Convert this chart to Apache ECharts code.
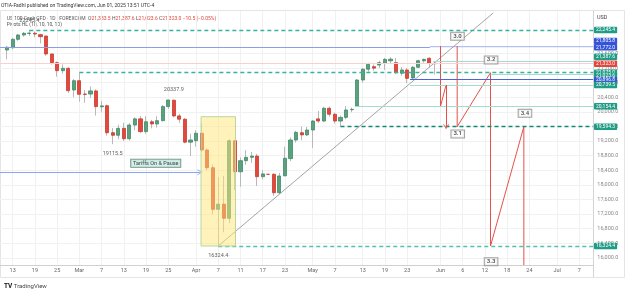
<!DOCTYPE html>
<html>
<head>
<meta charset="utf-8">
<title>US 100 Cash CFD - 1D</title>
<script src="https://cdn.jsdelivr.net/npm/echarts@6/dist/echarts.min.js"></script>
<style>body{margin:0;background:#fff}</style>
</head>
<body>
<div id="main" style="width:625px;height:293px;"></div>
<script type="text/javascript">
var FONT = 'Roboto, "Noto Sans", sans-serif';

// trading days on the time axis (weekdays, Feb 11 .. Jul 9 2025)
var days = [];
(function () {
    var d = new Date(Date.UTC(2025, 1, 11));
    while (days.length < 107) {
        var w = d.getUTCDay();
        if (w !== 0 && w !== 6) days.push(d.toISOString().slice(0, 10));
        d.setUTCDate(d.getUTCDate() + 1);
    }
})();

var tickIdx = [2, 6, 10, 14, 18, 22, 26, 30, 35, 39, 43, 47, 51, 56, 60, 65, 69, 73, 79, 83, 87, 91, 95, 100, 104];
var tickText = ['13', '19', '25', 'Mar', '7', '13', '19', '25', 'Apr', '7', '11', '17', '23', 'May', '7', '13', '19', '23', 'Jun', '6', '12', '18', '24', 'Jul', '7'];
var priceTicks = [16000, 16400, 16800, 17200, 17600, 18000, 18400, 18800, 19200, 19600, 20000, 20400, 20800, 21200, 21600];

// daily candles, Feb 12 .. May 30
var firstBar = 1;
var opens = [21697, 21760, 21990, 22108, 22150, 22155, 22117, 22080, 21588, 21350, 21130, 21195, 20601, 20855, 20490, 20490, 20575, 20140, 20170, 19430,
    19360, 19550, 19265, 19640, 19810, 19460, 19730, 19670, 19760, 20145, 20320, 19890, 19800, 19170, 19210, 19415, 18956, 18470, 17330, 17470,
    17085, 19210, 18360, 18663, 18755, 18790, 18225, 18290, 18290, 17785, 18250, 18720, 19230, 19430, 19370, 19504, 19810, 19750, 20100, 19935,
    19750, 19850, 20060, 20160, 20875, 21170, 21240, 21285, 21330, 21400, 21350, 21060, 21149, 20930, 21223, 21400, 21470, 21333.5];
var highs = [21807, 22020, 22140, 22190, 22245.4, 22200, 22140, 22090, 21600, 21380, 21300, 21220, 20900, 21075, 20600, 20700, 20620, 20300, 20200, 19560,
    19650, 19700, 19700, 19850, 19890, 19880, 19780, 19880, 20190, 20330, 20337.9, 19950, 19830, 19400, 19500, 19700, 19000, 18560, 18216, 18250,
    19250, 19230, 18750, 18950, 18900, 18850, 18400, 18290, 18320, 18330, 19047, 19300, 19480, 19600, 19590, 19780, 20025, 20140, 20150, 19980,
    19900, 20160, 20120, 20900, 21200, 21350, 21300, 21400, 21480, 21500, 21480, 21230, 21200, 21260, 21430, 21460, 21500, 21387.6];
var lows = [21442, 21720, 21950, 22060, 22080, 22050, 21880, 21540, 21300, 20966, 21050, 20520, 20400, 20280, 20250, 20380, 19900, 19990, 19350, 19115.5,
    19250, 19200, 19220, 19500, 19420, 19400, 19550, 19570, 19740, 20080, 19850, 19700, 19140, 18790, 19050, 18900, 18400, 17200, 16324.4, 16700,
    16950, 17860, 17950, 18550, 18600, 17970, 18150, 18290, 17700, 17750, 18230, 18650, 19160, 19220, 19340, 19011, 19700, 19720, 19870, 19680,
    19600, 19800, 19990, 20154.4, 20800, 21100, 21130, 21200, 21150, 21330, 21040, 20990, 20785, 20900, 21200, 21350, 21220, 21023.6];
var closes = [21771, 21990, 22108, 22155, 22160, 22135, 22062, 21588, 21350, 21130, 21195, 20582, 20855, 20483, 20480, 20575, 20145, 20165, 19430, 19360,
    19550, 19265, 19641, 19810, 19460, 19730, 19670, 19760, 20145, 20327, 19890, 19800, 19170, 19230, 19415, 18956, 18470, 17330, 17470, 17085,
    19210, 18360, 18663, 18755, 18790, 18225, 18300, 18290, 17785, 18244, 18728, 19230, 19440, 19370, 19504, 19750, 19750, 20100, 19935, 19750,
    19850, 20053, 20070, 20875, 21170, 21305, 21200, 21350, 21440, 21445, 21075, 21150, 20921, 21223, 21404, 21440, 21333, 21323];

// price tags on the right scale
var tagValues = [22245.4, 21805.8, 21772.0, 21387.6, 21323.0, 21075.0, 21023.6, 20896.8, 20739.5, 20154.4, 19594.3, 16324.4];
var tagKinds = ['g', 'b', 'b', 'g', 'r', 'g', 'g', 'b', 'g', 'g', 'g', 'g'];

// pivot levels: [price, first bar]
var pivotLines = [[22245.4, 5], [21075.0, 14], [19594.3, 61], [16324.4, 39]];
var pivotIdx = [5, 31, 20, 39];
var pivotVal = [22245.4, 20337.9, 19115.5, 16324.4];
var pivotIsHigh = [true, true, false, false];

// other horizontal levels: [price, first bar]
var tealLevels = [[21387.6, 77.7], [20739.5, 73.5], [20154.4, 63.6], [21023.6, 88]];
var blueLevel = [20896.8, 73.5];
var lastPrice = 21323.0;
var zoneLow = 21772.0, zoneHigh = 21805.8, zoneStart = 77.1;

// trend line
var trend = [[39, 16324.4], [88.5, 22713]];

// projected wave path
var wave1 = [[79, 21805.8], [79, 20154.4], [80, 20739.5]];
var wave1Arrow = [[80, 20739.5], [80, 19594.3]];
var wave2 = [[82, 21805.8], [82, 19594.3], [88, 21075.0], [88, 16324.4], [94, 19594.3], [94, 15804]];
var waveNames = ['3.0', '3.1', '3.2', '3.3', '3.4'];
var waveX = [82.05, 82.1, 88.1, 88.1, 94.2];
var waveY = [22073, 19395, 21423, 15894, 19962];

// tariff note
var noteText = 'Tariffs On & Pause';
var noteAt = [27.75, 18592];
var arrowLine = [[-0.5, 18345], [35.7, 18345]];
var boxFrom = [35.9, 19869], boxTo = [42.1, 16324.4];

var chart = echarts.init(document.getElementById('main'));

function fmt(v) {
    return v.toLocaleString('en-US', {minimumFractionDigits: 1, maximumFractionDigits: 1});
}
var END = days.length - 0.5;
var tagColor = {g: '#1f9c85', b: '#3553d6', r: '#e0483e'};
var tagNudge = {1: -5, 3: -4.5, 6: 1.5, 7: 1};
var chevron = 'path://M0,10L5,0L10,10L8.6,10L5,2.8L1.4,10Z';

var wickData = [], bodyData = [];
for (var i = 0; i < days.length; i++) {
    var k = i - firstBar;
    if (k < 0 || k >= opens.length) {
        wickData.push('-');
        bodyData.push('-');
        continue;
    }
    wickData.push([opens[k], closes[k], lows[k], highs[k]]);
    bodyData.push([opens[k], closes[k], Math.min(opens[k], closes[k]), Math.max(opens[k], closes[k])]);
}

var levelLines = [];
pivotLines.forEach(function (p, n) {
    levelLines.push([{coord: [p[1], p[0]], lineStyle: {type: [4, 3], width: 1.3, color: n === 2 ? '#128a72' : (n === 3 ? '#52c2ab' : '#35b39b')}}, {coord: [END, p[0]]}]);
});
tealLevels.forEach(function (p) {
    levelLines.push([{coord: [p[1], p[0]], lineStyle: {type: 'solid', color: '#a3ddd1', width: 1}}, {coord: [END, p[0]]}]);
});
levelLines.push([{coord: [blueLevel[1], blueLevel[0]], lineStyle: {type: 'solid', color: '#4a63d9', width: 1}}, {coord: [END, blueLevel[0]]}]);
levelLines.push([{coord: [-0.5, lastPrice], lineStyle: {type: 'solid', color: '#f8d0d2', width: 1}}, {coord: [END, lastPrice]}]);
levelLines.push([{coord: [-0.5, zoneLow], lineStyle: {type: 'solid', color: '#8d9ee6', width: 1}}, {coord: [zoneStart, zoneLow]}]);

var labelPoints = [];
waveNames.forEach(function (t, n) {
    labelPoints.push({
        value: [waveX[n], waveY[n]],
        label: {
            show: true, position: 'inside', formatter: t, fontSize: 6, fontWeight: 'bold', fontFamily: FONT,
            color: '#333', backgroundColor: '#fff', borderColor: '#8a8a8a', borderWidth: 1, padding: [1, 2, 0, 2]
        }
    });
});
pivotIdx.forEach(function (x, n) {
    labelPoints.push({
        value: [x, pivotVal[n]],
        label: {
            show: true, position: pivotIsHigh[n] ? 'top' : 'bottom', distance: 6, formatter: String(pivotVal[n]),
            fontSize: 5.5, fontFamily: FONT, color: '#333'
        }
    });
});
labelPoints.push({
    value: noteAt,
    label: {
        show: true, position: 'inside', formatter: noteText, fontSize: 5.5, fontFamily: FONT, color: '#111',
        backgroundColor: '#c7ebe2', borderColor: '#4d6f67', borderWidth: 0.8, padding: [1, 2, 0.5, 2]
    }
});

var frame = [
    {type: 'rect', silent: true, shape: {x: 0.5, y: 10.5, width: 624, height: 267}, style: {fill: 'none', stroke: '#e4e4e4', lineWidth: 1}},
    {type: 'line', silent: true, shape: {x1: 593.5, y1: 11, x2: 593.5, y2: 277}, style: {stroke: '#d4d4d4', lineWidth: 1}},
    {type: 'text', x: 1, y: 6, style: {text: 'OTIA-Fadhl published on TradingView.com, Jun 01, 2025 13:51 UTC-4', fontSize: 5, fontFamily: FONT, fill: '#333', verticalAlign: 'middle'}},
    {type: 'text', x: 6.7, y: 18.3, style: {
        text: 'US 100 Cash CFD \u00b7 1D \u00b7 FOREXCOM  O{r|21,333.5} H{r|21,387.6} L{r|21,023.6} C{r|21,323.0} {r|\u221210.5 (\u22120.05%)}',
        rich: {r: {fill: '#d9473d', fontSize: 5, fontFamily: FONT}},
        fontSize: 5, fontFamily: FONT, fill: '#555', verticalAlign: 'middle'}},
    {type: 'text', x: 6.7, y: 24.3, style: {text: 'Pivots HL (10, 10, 10, 10)', fontSize: 5, fontFamily: FONT, fill: '#555', verticalAlign: 'middle'}},
    {type: 'text', x: 597, y: 18, style: {text: 'USD', fontSize: 5.5, fontFamily: FONT, fill: '#444', verticalAlign: 'middle'}},
    {type: 'text', x: 4, y: 286.5, style: {
        text: '{b|TV} TradingView', rich: {b: {fontSize: 6.5, fontWeight: 'bold', fill: '#111', fontFamily: FONT}},
        fontSize: 6, fontFamily: FONT, fill: '#444', verticalAlign: 'middle'}}
];

var option = {
    animation: false,
    backgroundColor: '#fff',
    grid: {left: -1.2, right: 31.7, top: 11, bottom: 28, outerBoundsMode: 'none'},
    xAxis: [
        {type: 'category', data: days, show: false, boundaryGap: true},
        {
            type: 'value', min: -0.5, max: END, position: 'bottom',
            axisLine: {show: true, lineStyle: {color: '#d0d0d0'}},
            axisTick: {show: false, customValues: tickIdx},
            axisLabel: {
                customValues: tickIdx, fontSize: 5.5, fontFamily: FONT, color: '#666', margin: 3,
                formatter: function (v) { return tickText[tickIdx.indexOf(Math.round(v))]; }
            },
            splitLine: {show: true, lineStyle: {color: '#f1f1f1', width: 1}}
        }
    ],
    yAxis: {
        type: 'value', position: 'right', min: 15804, max: 22766, scale: true,
        axisLine: {show: false},
        axisTick: {show: false, customValues: priceTicks},
        axisLabel: {customValues: priceTicks, fontSize: 5.5, fontFamily: FONT, color: '#8a8a8a', margin: 4, formatter: fmt},
        splitLine: {show: true, lineStyle: {color: '#f1f1f1', width: 1}}
    },
    graphic: frame,
    series: [
        {
            name: 'wicks', type: 'candlestick', xAxisIndex: 0, data: wickData, barWidth: 1, silent: true,
            itemStyle: {color: '#b9b9b9', color0: '#b9b9b9', borderColor: '#b9b9b9', borderColor0: '#b9b9b9', borderWidth: 1}
        },
        {
            name: 'US 100 Cash CFD', type: 'candlestick', xAxisIndex: 0, data: bodyData, barWidth: 3.6, silent: true,
            itemStyle: {color: '#5aa17e', color0: '#e2493c', borderColor: '#3f8a66', borderColor0: '#c93a2e', borderWidth: 0.8}
        },
        {
            name: 'levels', type: 'line', xAxisIndex: 1, data: [], silent: true,
            markLine: {silent: true, symbol: 'none', data: levelLines, label: {show: false}},
            markArea: {silent: true, itemStyle: {color: '#b3c0f2'}, data: [[{coord: [zoneStart, zoneLow]}, {coord: [END, zoneHigh]}]]}
        },
        {
            name: 'trend', type: 'line', xAxisIndex: 1, data: trend, symbol: 'none', silent: true,
            lineStyle: {color: '#8d8d8d', width: 0.8}
        },
        {
            name: 'wave1', type: 'line', xAxisIndex: 1, data: wave1, symbol: 'none', silent: true,
            lineStyle: {color: '#e4514b', width: 1},
            markLine: {
                silent: true, symbol: ['none', chevron], symbolSize: [6, 5], label: {show: false},
                lineStyle: {color: '#e4514b', width: 1, type: 'solid'},
                data: [[{coord: wave1Arrow[0]}, {coord: wave1Arrow[1]}]]
            }
        },
        {
            name: 'wave2', type: 'line', xAxisIndex: 1, data: wave2, symbol: 'none', silent: true,
            lineStyle: {color: '#e4514b', width: 1}
        },
        {
            name: 'tariffs', type: 'line', xAxisIndex: 1, data: [], silent: true,
            markLine: {
                silent: true, symbol: ['none', chevron], symbolSize: [6, 5], label: {show: false},
                lineStyle: {color: '#8aa4f5', width: 1, type: 'solid'},
                data: [[{coord: arrowLine[0]}, {coord: arrowLine[1]}]]
            },
            markArea: {
                silent: true, z: 10,
                itemStyle: {color: 'rgba(255, 230, 120, 0.5)', borderColor: '#b7d99c', borderWidth: 1},
                data: [[{coord: boxFrom}, {coord: boxTo}]]
            }
        },
        {
            name: 'labels', type: 'scatter', xAxisIndex: 1, data: labelPoints, symbolSize: 1, silent: true, z: 20,
            itemStyle: {color: 'rgba(0,0,0,0)'}
        }
    ]
};

chart.setOption(option);

// price tags placed on the right scale through the y axis
var tags = tagValues.map(function (v, n) {
    var y = chart.convertToPixel({yAxisIndex: 0}, v) + (tagNudge[n] || 0);
    return {
        type: 'text', silent: true, z: 100, x: 594, y: y,
        style: {
            text: fmt(v), fontSize: 5, fontFamily: FONT, fill: '#fff', verticalAlign: 'middle',
            backgroundColor: tagColor[tagKinds[n]], padding: [1, 2, 0.5, 2], borderRadius: 1
        }
    };
});
chart.setOption({graphic: frame.concat(tags)});
</script>
</body>
</html>
